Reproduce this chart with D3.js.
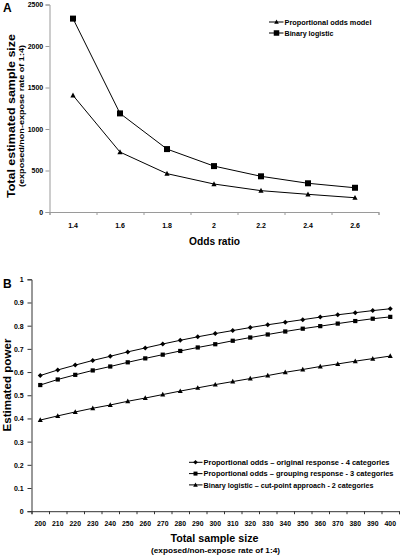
<!DOCTYPE html>
<html><head><meta charset="utf-8">
<script src="https://cdn.jsdelivr.net/npm/d3@7"></script>
<style>
html,body{margin:0;padding:0;background:#fff;}
svg{display:block;font-family:"Liberation Sans",Arial,sans-serif;font-weight:bold;}
</style></head>
<body>
<svg id="c" width="400" height="555"></svg>
<script>
// ---- Panel A data ----
const oddsRatios = ["1.4","1.6","1.8","2","2.2","2.4","2.6"];
const propOddsN = [1405, 722, 462, 337, 257, 213, 172];
const binaryN   = [2330, 1188, 758, 553, 430, 346, 292];
const yTicksA = [0, 500, 1000, 1500, 2000, 2500];
const legendA = ["Proportional odds model", "Binary logistic"];

// ---- Panel B data ----
const sampleSizes = ["200","210","220","230","240","250","260","270","280","290","300","310","320","330","340","350","360","370","380","390","400"];
const power4cat = [0.585,0.609,0.630,0.650,0.668,0.687,0.704,0.721,0.737,0.752,0.766,0.779,0.792,0.804,0.815,0.826,0.837,0.847,0.856,0.865,0.873];
const power3cat = [0.544,0.568,0.588,0.607,0.624,0.642,0.659,0.675,0.691,0.706,0.720,0.735,0.749,0.762,0.775,0.787,0.798,0.809,0.820,0.830,0.838];
const power2cat = [0.393,0.411,0.428,0.444,0.458,0.474,0.488,0.503,0.518,0.532,0.546,0.559,0.572,0.585,0.599,0.611,0.624,0.635,0.647,0.658,0.669];
const yTicksB = [0,0.1,0.2,0.3,0.4,0.5,0.6,0.7,0.8,0.9,1];
const legendB = ["Proportional odds \u2013 original response - 4 categories",
                 "Proportional odds \u2013 grouping response - 3 categories",
                 "Binary logistic \u2013 cut-point approach - 2 categories"];

const svg = d3.select("#c");

function marker(g, shape, x, y, s) {
  if (shape === "square") {
    g.append("rect").attr("x", x - s/2).attr("y", y - s/2).attr("width", s).attr("height", s).attr("fill", "#000");
  } else if (shape === "triangle") {
    const h = s * 0.9;
    g.append("path").attr("d", `M${x},${y - h*0.6}L${x + s/2},${y + h*0.45}L${x - s/2},${y + h*0.45}Z`).attr("fill", "#000");
  } else if (shape === "diamond") {
    g.append("path").attr("d", `M${x},${y - s/2}L${x + s/2},${y}L${x},${y + s/2}L${x - s/2},${y}Z`).attr("fill", "#000");
  }
}

function styleAxis(g, col) {
  g.select(".domain").attr("stroke", col).attr("stroke-width", 1);
  g.selectAll(".tick line").attr("stroke", col);
  g.selectAll("text").attr("font-family", "Liberation Sans, Arial, sans-serif").attr("font-weight", "bold").attr("fill", "#000");
}

// =============== Panel A ===============
(function(){
  const AX = "#9a9a9a";
  const L = 49.5, R = 378.5, T = 4.5, B = 212;
  const x = d3.scaleBand().domain(oddsRatios).range([L, R]);
  const xi = d3.scaleLinear().domain([0, oddsRatios.length]).range([L, R]);
  const y = d3.scaleLinear().domain([0, 2500]).range([B, T]);
  const g = svg.append("g");

  const ya = g.append("g").attr("transform", `translate(${L},0)`)
    .call(d3.axisLeft(y).tickValues(yTicksA).tickSize(4).tickPadding(2).tickFormat(d3.format("d")));
  styleAxis(ya, AX);
  ya.selectAll("text").attr("font-size", 7).attr("x", -6.3).attr("dy", "0.35em");

  const xt = g.append("g").attr("transform", `translate(0,${B})`)
    .call(d3.axisBottom(xi).tickValues(d3.range(oddsRatios.length + 1)).tickSize(3).tickFormat(""));
  styleAxis(xt, AX);
  const xl = g.append("g").attr("transform", `translate(0,${B})`)
    .call(d3.axisBottom(x).tickSize(0).tickPadding(0));
  xl.select(".domain").remove();
  styleAxis(xl, AX);
  xl.selectAll("text").attr("font-size", 7).attr("y", 15.8).attr("dy", 0);

  const series = [
    {vals: binaryN, shape: "square", size: 6},
    {vals: propOddsN, shape: "triangle", size: 5.2}
  ];
  const line = d3.line().x((d, i) => x(oddsRatios[i]) + x.bandwidth()/2).y(d => y(d));
  series.forEach(s => {
    g.append("path").attr("d", line(s.vals)).attr("fill", "none").attr("stroke", "#000").attr("stroke-width", 1);
    s.vals.forEach((v, i) => marker(g, s.shape, x(oddsRatios[i]) + x.bandwidth()/2, y(v), s.size));
  });

  // legend
  const lg = g.append("g");
  const legShapes = [["triangle", 4.6], ["square", 5.5]];
  const legW = [87, 49];
  legendA.forEach((t, i) => {
    const yy = 22 + i * 11;
    lg.append("line").attr("x1", 269).attr("x2", 283.5).attr("y1", yy).attr("y2", yy).attr("stroke", "#000");
    marker(lg, legShapes[i][0], 276.5, yy, legShapes[i][1]);
    lg.append("text").attr("x", 284.5).attr("y", yy + 2.7).attr("font-size", 7.4)
      .attr("textLength", legW[i]).attr("lengthAdjust", "spacingAndGlyphs").text(t);
  });

  // titles
  g.append("text").attr("x", 3).attr("y", 12).attr("font-size", 12).text("A");
  g.append("text").attr("transform", "translate(15,116) rotate(-90)").attr("text-anchor", "middle")
    .attr("font-size", 11).attr("textLength", 164).attr("lengthAdjust", "spacingAndGlyphs").text("Total estimated sample size");
  g.append("text").attr("transform", "translate(23.5,116) rotate(-90)").attr("text-anchor", "middle")
    .attr("font-size", 7.2).attr("textLength", 142).attr("lengthAdjust", "spacingAndGlyphs").text("(exposed/non-expose rate of 1:4)");
  g.append("text").attr("x", 214.5).attr("y", 244.8).attr("text-anchor", "middle")
    .attr("font-size", 10.5).attr("textLength", 51).attr("lengthAdjust", "spacingAndGlyphs").text("Odds ratio");
})();

// =============== Panel B ===============
(function(){
  const AX = "#333";
  const L = 31.5, R = 399, T = 279.3, B = 511.2;
  const x = d3.scaleBand().domain(sampleSizes).range([L, R]);
  const xi = d3.scaleLinear().domain([0, sampleSizes.length]).range([L, R]);
  const y = d3.scaleLinear().domain([0, 1]).range([B, T]);
  const g = svg.append("g");

  const ya = g.append("g").attr("transform", `translate(${L},0)`)
    .call(d3.axisLeft(y).tickValues(yTicksB).tickSize(4).tickFormat(d => d3.format("")(+d.toFixed(1))));
  styleAxis(ya, AX);
  ya.selectAll("text").attr("font-size", 7).attr("x", -7.8).attr("dy", "0.35em");

  const xt = g.append("g").attr("transform", `translate(0,${B})`)
    .call(d3.axisBottom(xi).tickValues(d3.range(sampleSizes.length + 1)).tickSize(3).tickFormat(""));
  styleAxis(xt, AX);
  const xl = g.append("g").attr("transform", `translate(0,${B})`)
    .call(d3.axisBottom(x).tickSize(0));
  xl.select(".domain").remove();
  styleAxis(xl, AX);
  xl.selectAll("text").attr("font-size", 6.9).attr("y", 14.8).attr("dy", 0);

  const series = [
    {vals: power4cat, shape: "diamond", size: 5},
    {vals: power3cat, shape: "square", size: 4.2},
    {vals: power2cat, shape: "triangle", size: 5}
  ];
  const line = d3.line().x((d, i) => x(sampleSizes[i]) + x.bandwidth()/2).y(d => y(d));
  series.forEach(s => {
    g.append("path").attr("d", line(s.vals)).attr("fill", "none").attr("stroke", "#000").attr("stroke-width", 1);
    s.vals.forEach((v, i) => marker(g, s.shape, x(sampleSizes[i]) + x.bandwidth()/2, y(v), s.size));
  });

  const lg = g.append("g");
  const shapes = [["diamond", 4.6], ["square", 4], ["triangle", 4.6]];
  const legW = [186, 190, 170];
  legendB.forEach((t, i) => {
    const yy = 462.3 + i * 11.3;
    lg.append("line").attr("x1", 189).attr("x2", 202.5).attr("y1", yy).attr("y2", yy).attr("stroke", "#000");
    marker(lg, shapes[i][0], 195.5, yy, shapes[i][1]);
    lg.append("text").attr("x", 203.5).attr("y", yy + 2.6).attr("font-size", 7.4)
      .attr("textLength", legW[i]).attr("lengthAdjust", "spacingAndGlyphs").text(t);
  });

  g.append("text").attr("x", 3).attr("y", 287.5).attr("font-size", 12).text("B");
  g.append("text").attr("transform", "translate(10.5,385) rotate(-90)").attr("text-anchor", "middle")
    .attr("font-size", 10.5).attr("textLength", 93).attr("lengthAdjust", "spacingAndGlyphs").text("Estimated power");
  g.append("text").attr("x", 214.5).attr("y", 541.8).attr("text-anchor", "middle")
    .attr("font-size", 10.5).attr("textLength", 88).attr("lengthAdjust", "spacingAndGlyphs").text("Total sample size");
  g.append("text").attr("x", 215.5).attr("y", 553).attr("text-anchor", "middle")
    .attr("font-size", 7.2).attr("textLength", 129).attr("lengthAdjust", "spacingAndGlyphs").text("(exposed/non-expose rate of 1:4)");
})();
</script>
</body></html>
